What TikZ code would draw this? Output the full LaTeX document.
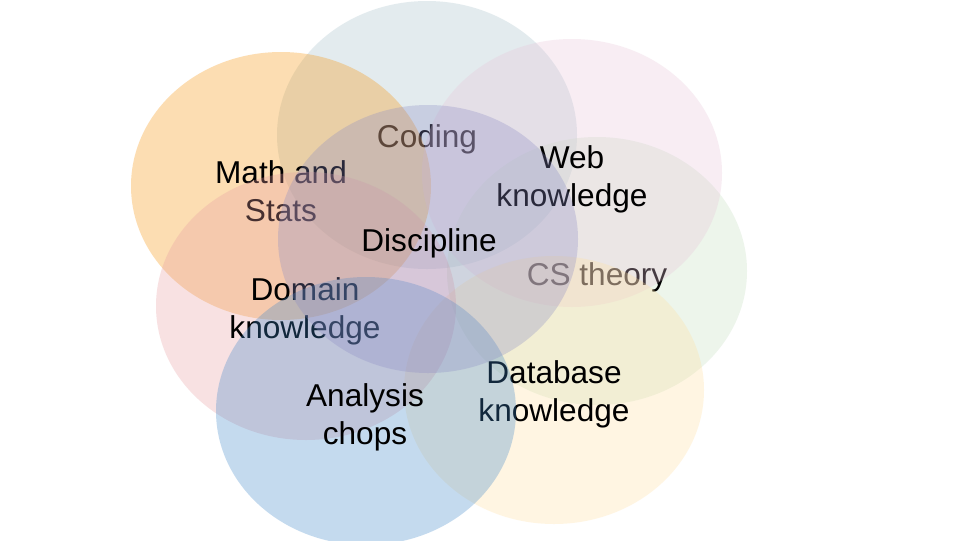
\documentclass[tikz,border=0pt]{standalone}
\usepackage{fontspec}
\setmainfont{Liberation Sans}
\usetikzlibrary{shapes.geometric}
\definecolor{cOrange}{RGB}{248,145,0}
\definecolor{cCoding}{RGB}{165,192,202}
\definecolor{cWeb}{RGB}{232,198,218}
\definecolor{cGreen}{RGB}{198,222,192}
\definecolor{cYellow}{RGB}{255,225,162}
\definecolor{cBlue}{RGB}{62,135,202}
\definecolor{cDomain}{RGB}{232,158,162}
\definecolor{cPurple}{RGB}{139,139,197}
\tikzset{
  blob/.style={ellipse, draw=none, fill opacity=0.3, inner sep=0pt,
    minimum width=225pt, minimum height=201pt},
  lbl/.style={align=center, text=black, inner sep=0pt,
    font=\fontsize{23.7pt}{28.5pt}\selectfont}
}
\begin{document}
\begin{tikzpicture}[x=0.75pt,y=-0.75pt]
\useasboundingbox[fill=white] (0,0) rectangle (960,540);
\node[blob, fill=cCoding] (coding) at (427,135) {};
\node[lbl] (codinglbl) at (427,139) {Coding};
\node[blob, fill=cOrange] (math) at (281,186) {};
\node[lbl] (mathlbl) at (281,191) {Math and\\Stats};
\node[blob, fill=cGreen] (cs) at (597,271) {};
\node[lbl] (cslbl) at (597,277) {CS theory};
\node[blob, fill=cWeb] (web) at (572,173) {};
\node[lbl] (weblbl) at (572,179) {Web\\knowledge};
\node[blob, fill=cYellow] (db) at (554,390) {};
\node[lbl] (dblbl) at (554,394) {Database\\knowledge};
\node[blob, fill=cDomain] (domain) at (306,306) {};
\node[lbl] (domainlbl) at (305,311) {Domain\\knowledge};
\node[blob, fill=cBlue] (analysis) at (366,411) {};
\node[lbl] (analysislbl) at (365,417) {Analysis\\chops};
\node[blob, fill=cPurple] (disc) at (428,239) {};
\node[lbl] (disclbl) at (429,243) {Discipline};
\end{tikzpicture}
\end{document}
